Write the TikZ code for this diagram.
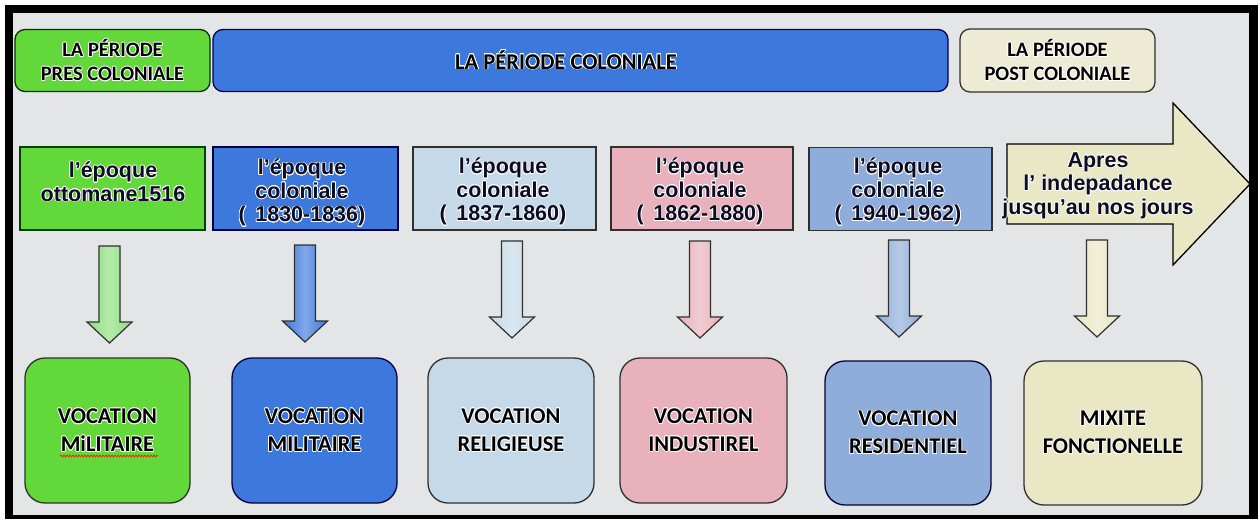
\documentclass[tikz,border=0pt]{standalone}
\usepackage{fontspec}
\usepackage[copies]{contour}
\newfontfamily\calfont{Carlito}
\newfontfamily\arfont{Liberation Sans}
\usetikzlibrary{decorations.pathmorphing}
\definecolor{cbg}{HTML}{E3E5E7}
\definecolor{cgreen}{HTML}{62D83A}
\definecolor{cgreenA}{HTML}{8EDF7E}
\definecolor{cblue}{HTML}{3D78DC}
\definecolor{clb}{HTML}{C5D9E8}
\definecolor{cpink}{HTML}{E8B1BB}
\definecolor{cslate}{HTML}{8EADDA}
\definecolor{cbeige}{HTML}{E9E7C4}
\definecolor{ctopbeige}{HTML}{EDEBD3}
\definecolor{ctext}{HTML}{0C0C22}
\definecolor{cline}{HTML}{303030}
\contourlength{0.7pt}
\newcommand{\gw}[1]{\contour{white}{#1}}
\newcommand{\dnarrow}[3]{%
  \draw[dnarr, left color=#3, right color=#3, middle color=#3!65!white]
    (#1-10.5,#2) -- (#1+10.5,#2) -- (#1+10.5,#2+76) -- (#1+22.5,#2+76)
    -- (#1,#2+97) -- (#1-22.5,#2+76) -- (#1-10.5,#2+76) -- cycle;}
\begin{document}
\begin{tikzpicture}[x=1pt,y=-1pt,
  topbox/.style={draw=cline, line width=1.3pt, rounded corners=10pt, inner sep=0pt,
    align=center, text=black, font=\calfont\bfseries\fontsize{20.5}{24}\selectfont},
  midbox/.style={draw=cline, line width=1.3pt, inner sep=0pt,
    minimum width=184pt, minimum height=83pt},
  midtext/.style={align=center, text=ctext, inner sep=0pt,
    font=\arfont\bfseries\fontsize{21.5}{23.5}\selectfont},
  botbox/.style={draw=cline, line width=1.3pt, rounded corners=20pt, inner sep=0pt,
    align=center, text=black, minimum height=145pt,
    font=\calfont\bfseries\fontsize{22.5}{28}\selectfont},
  dnarr/.style={draw=cline, line width=1.2pt, line join=miter},
]
\useasboundingbox (0,0) rectangle (1260,519);
\fill[white] (0,0) rectangle (1260,519);
\fill[black] (5,5) rectangle (1258,519);
\fill[cbg] (13,13) rectangle (1249,515);

% top row
\node[topbox, fill=cgreen, draw=black!80!green, minimum width=195pt, minimum height=62pt] (p1) at (112.5,60.5)
  {\gw{LA PÉRIODE}\\\gw{PRES COLONIALE}};
\node[topbox, fill=cblue, draw=blue!30!black, minimum width=735pt, minimum height=62pt] (p2) at (580.5,60.5) {};
\node[align=center, inner sep=0pt, font=\calfont\bfseries\fontsize{22.5}{24}\selectfont] (p2t) at (566,60)
  {\gw{LA PÉRIODE COLONIALE}};
\node[topbox, fill=ctopbeige, minimum width=195pt, minimum height=63pt] (p3) at (1057.5,60.5)
  {\gw{LA PÉRIODE}\\\gw{POST COLONIALE}};

% middle row
\node[midbox, fill=cgreen, draw=green!25!black, minimum width=185pt] (m1) at (112.5,188.5) {};
\node[midtext] (m1t) at (113,182) {\gw{l’époque}\\\gw{ottomane1516}};
\node[midbox, fill=cblue, draw=blue!25!black, minimum width=185pt] (m2) at (305.5,188.5) {};
\node[midtext] (m2t) at (302,193) {\gw{l’époque}\\\gw{coloniale}\\\gw{(\, 1830-1836)}};
\node[midbox, fill=clb, minimum width=183pt] (m3) at (504.5,188.5) {};
\node[midtext] (m3t) at (503,192) {\gw{l’époque}\\\gw{coloniale}\\\gw{(\, 1837-1860)}};
\node[midbox, fill=cpink, minimum width=182pt] (m4) at (702,188.5) {};
\node[midtext] (m4t) at (700,192) {\gw{l’époque}\\\gw{coloniale}\\\gw{(\, 1862-1880)}};
\node[midbox, fill=cslate, minimum width=183pt] (m5) at (900.5,189) {};
\node[midtext] (m5t) at (898,192) {\gw{l’époque}\\\gw{coloniale}\\\gw{(\, 1940-1962)}};

% big arrow
\draw[draw=black, line width=1.3pt, fill=cbeige, line join=miter]
  (1007,144) -- (1173,144) -- (1173,103) -- (1250,184) -- (1173,265) -- (1173,224) -- (1007,224) -- cycle;
\node[midtext] (a6) at (1098,186) {\gw{Apres}\\\gw{l’ indepadance}\\\gw{jusqu’au nos jours}};

% down arrows
\dnarrow{109.5}{246}{cgreenA}
\dnarrow{305}{245}{cblue}
\dnarrow{512}{241}{clb}
\dnarrow{700}{241}{cpink}
\dnarrow{899}{240}{cslate}
\dnarrow{1097}{240}{cbeige}

% bottom row
\node[botbox, fill=cgreen, minimum width=165pt] (b1) at (107.5,430.5) {\gw{VOCATION}\\\gw{MiLITAIRE}};
\node[botbox, fill=cblue, draw=blue!25!black, minimum width=165pt] (b2) at (314.5,430.5) {\gw{VOCATION}\\\gw{MILITAIRE}};
\node[botbox, fill=clb, minimum width=166pt] (b3) at (511,430.5) {\gw{VOCATION}\\\gw{RELIGIEUSE}};
\node[botbox, fill=cpink, minimum width=167pt] (b4) at (703.5,430.5) {\gw{VOCATION}\\\gw{INDUSTIREL}};
\node[botbox, fill=cslate, draw=blue!20!black, minimum width=166pt, minimum height=144pt] (b5) at (908,433) {\gw{VOCATION}\\\gw{RESIDENTIEL}};
\node[botbox, fill=cbeige, minimum width=178pt, minimum height=144pt] (b6) at (1113,433) {\gw{MIXITE}\\\gw{FONCTIONELLE}};
\draw[red!75!orange, line width=0.8pt, decorate, decoration={snake, amplitude=0.9pt, segment length=3pt}]
  (60,456) -- (158,456);
\end{tikzpicture}
\end{document}
